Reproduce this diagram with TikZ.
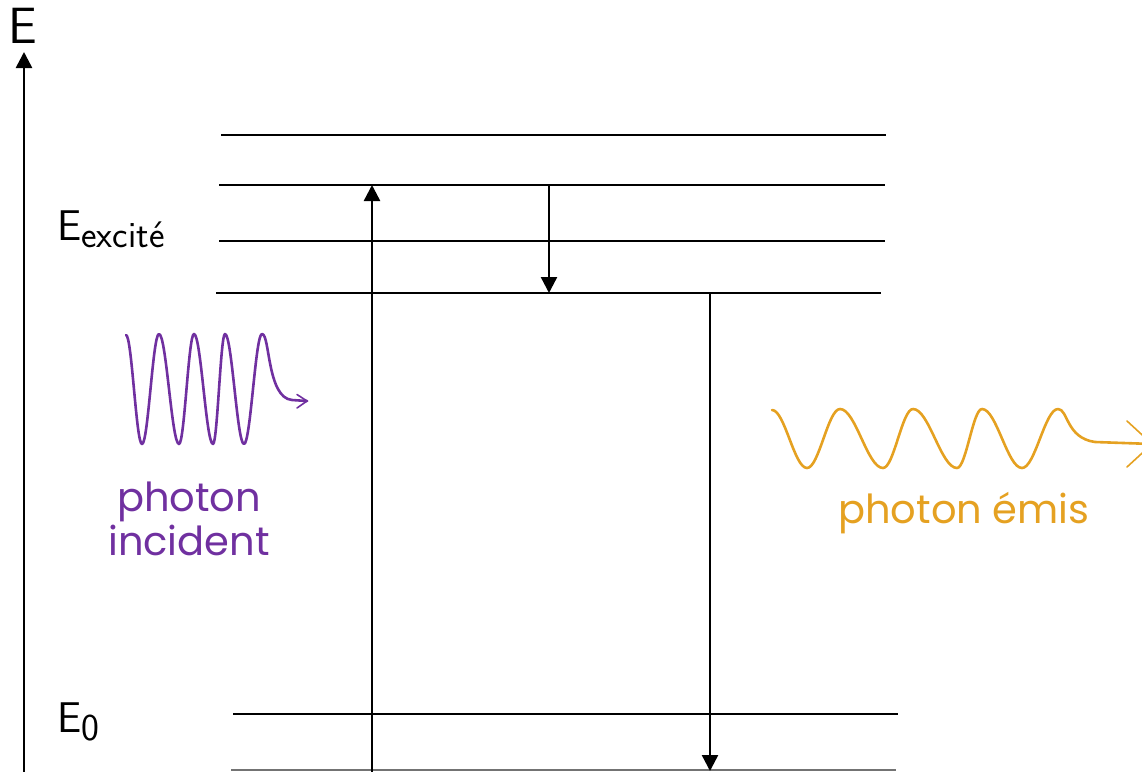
\documentclass[tikz,border=0pt]{standalone}
\usepackage{fontspec}
\newfontfamily\wavefont{Poppins}
\usetikzlibrary{arrows.meta}
\definecolor{incpurple}{HTML}{7030A0}
\definecolor{emorange}{HTML}{E5A121}
\tikzset{
  level/.style={line width=2pt, black},
  axisline/.style={line width=2.6pt, -{Triangle[length=16pt,width=16pt]}},
  trans/.style={line width=2.4pt, -{Triangle[length=16pt,width=16pt]}},
  incwave/.style={line width=2.6pt, incpurple, line cap=round, line join=round},
  emwave/.style={line width=2.6pt, emorange, line cap=round, line join=round},
  chev/.style={line width=1.6pt, line cap=round},
  lbl/.style={inner sep=0pt, anchor=base west, font=\sffamily},
  wavetext/.style={inner sep=0pt, font=\wavefont\fontsize{40}{44}\selectfont, align=center}
}
\begin{document}
\begin{tikzpicture}[x=1pt,y=-1pt]
\useasboundingbox (0,0) rectangle (1142,771);
\clip (0,0) rectangle (1142,771);
% energy levels
\coordinate (l1a) at (221,135); \coordinate (l1b) at (886,135);
\coordinate (l2a) at (219,185); \coordinate (l2b) at (885,185);
\coordinate (l3a) at (219,241); \coordinate (l3b) at (885,241);
\coordinate (l4a) at (216,293); \coordinate (l4b) at (881,293);
\coordinate (l0a) at (233,714); \coordinate (l0b) at (898,714);
\coordinate (lba) at (231,770); \coordinate (lbb) at (896,770);
\draw[level] (l1a) -- (l1b);
\draw[level] (l2a) -- (l2b);
\draw[level] (l3a) -- (l3b);
\draw[level] (l4a) -- (l4b);
\draw[level] (l0a) -- (l0b);
\draw[level, black!55] (lba) -- (lbb);
% axis
\coordinate (ax0) at (24,775); \coordinate (ax1) at (24,52);
\draw[axisline] (ax0) -- (ax1);
\node[lbl, font=\sffamily\fontsize{51}{51}\selectfont] (elab) at (8,43) {E};
\node[lbl] (eexc) at (57,240) {{\fontsize{43}{43}\selectfont E}\raisebox{-7pt}{\fontsize{37}{37}\selectfont excit\'e}};
\node[lbl] (ezero) at (57,732) {{\fontsize{43}{43}\selectfont E}\raisebox{-8pt}{\fontsize{38}{38}\selectfont 0}};
% transitions
\coordinate (up0) at (372,775); \coordinate (up1) at (372,185);
\coordinate (dn0) at (549,185); \coordinate (dn1) at (549,293);
\coordinate (dm0) at (710,293); \coordinate (dm1) at (710,771);
\draw[trans] (up0) -- (up1);
\draw[trans] (dn0) -- (dn1);
\draw[trans] (dm0) -- (dm1);
% incident photon wave
\coordinate (iw0) at (126,335);
\coordinate (iwt) at (307,401);
\draw[incwave] (iw0) cos (134,389.5) sin (142,444) cos (150.5,389) sin (159,334)
  cos (169,389) sin (179,444) cos (186.5,389) sin (194,334)
  cos (203.5,389) sin (213,444) cos (219,389) sin (225,334)
  cos (234.5,389) sin (244,444) cos (253,389) sin (262,334)
  .. controls (270,334) and (267,398) .. (292,400) -- (iwt);
\draw[chev, incpurple] (297,394.5) -- (iwt) -- (297,408);
\node[wavetext, text=incpurple] (inctext) at (189,519) {photon\\incident};
% emitted photon wave
\coordinate (ew0) at (772,410);
\coordinate (ewt) at (1152,444);
\draw[emwave] (ew0) cos (789.5,439) sin (807,468) cos (823.5,438.5) sin (840,409)
  cos (861.5,438.5) sin (883,468) cos (898,438.5) sin (913,409)
  cos (935,438.5) sin (957,468) cos (969.5,438.5) sin (982,409)
  cos (1002,438.5) sin (1022,468) cos (1040,438.5) sin (1058,409)
  .. controls (1068,409) and (1066,438) .. (1095,442) -- (ewt);
\draw[chev, emorange] (1127,421) -- (ewt) -- (1127,467);
\node[wavetext, text=emorange, anchor=base] (emtext) at (964,523) {photon \'emis};
\end{tikzpicture}
\end{document}
